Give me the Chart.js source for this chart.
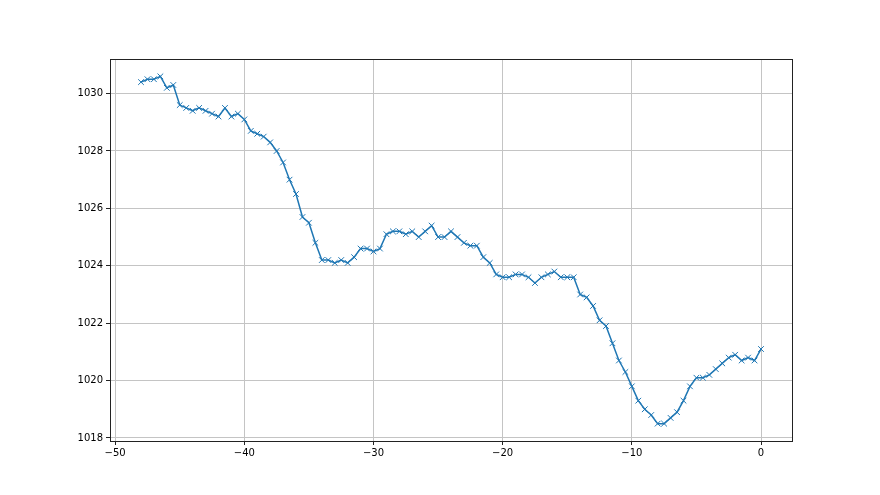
<!DOCTYPE html>
<html>
<head>
<meta charset="utf-8">
<script src="https://cdn.jsdelivr.net/npm/chart.js@4"></script>
<style>
  body { margin: 0; background: #fff; }
  canvas { display: block; }
</style>
</head>
<body>
<canvas id="pressureChart" width="880" height="495"></canvas>
<script>
// hours relative to now
const hours = [
    -48, -47.5, -47, -46.5, -46, -45.5, -45, -44.5, -44, -43.5,
    -43, -42.5, -42, -41.5, -41, -40.5, -40, -39.5, -39, -38.5,
    -38, -37.5, -37, -36.5, -36, -35.5, -35, -34.5, -34, -33.5,
    -33, -32.5, -32, -31.5, -31, -30.5, -30, -29.5, -29, -28.5,
    -28, -27.5, -27, -26.5, -26, -25.5, -25, -24.5, -24, -23.5,
    -23, -22.5, -22, -21.5, -21, -20.5, -20, -19.5, -19, -18.5,
    -18, -17.5, -17, -16.5, -16, -15.5, -15, -14.5, -14, -13.5,
    -13, -12.5, -12, -11.5, -11, -10.5, -10, -9.5, -9, -8.5,
    -8, -7.5, -7, -6.5, -6, -5.5, -5, -4.5, -4, -3.5,
    -3, -2.5, -2, -1.5, -1, -0.5, 0
];

// pressure readings (hPa)
const pressure = [
    1030.4, 1030.5, 1030.5, 1030.6, 1030.2, 1030.3, 1029.6, 1029.5, 1029.4, 1029.5,
    1029.4, 1029.3, 1029.2, 1029.5, 1029.2, 1029.3, 1029.1, 1028.7, 1028.6, 1028.5,
    1028.3, 1028.0, 1027.6, 1027.0, 1026.5, 1025.7, 1025.5, 1024.8, 1024.2, 1024.2,
    1024.1, 1024.2, 1024.1, 1024.3, 1024.6, 1024.6, 1024.5, 1024.6, 1025.1, 1025.2,
    1025.2, 1025.1, 1025.2, 1025.0, 1025.2, 1025.4, 1025.0, 1025.0, 1025.2, 1025.0,
    1024.8, 1024.7, 1024.7, 1024.3, 1024.1, 1023.7, 1023.6, 1023.6, 1023.7, 1023.7,
    1023.6, 1023.4, 1023.6, 1023.7, 1023.8, 1023.6, 1023.6, 1023.6, 1023.0, 1022.9,
    1022.6, 1022.1, 1021.9, 1021.3, 1020.7, 1020.3, 1019.8, 1019.3, 1019.0, 1018.8,
    1018.5, 1018.5, 1018.7, 1018.9, 1019.3, 1019.8, 1020.1, 1020.1, 1020.2, 1020.4,
    1020.6, 1020.8, 1020.9, 1020.7, 1020.8, 1020.7, 1021.1
];

const xTicks = [-50, -40, -30, -20, -10, 0];
const yTicks = [1018, 1020, 1022, 1024, 1026, 1028, 1030];

const BLUE = '#1f77b4';
const GRID = '#c4c4c4';

// matplotlib style box round the axes
const frame = {
    id: 'frame',
    afterDraw(chart) {
        const { ctx, chartArea: a } = chart;
        ctx.save();
        ctx.strokeStyle = '#222';
        ctx.lineWidth = 1;
        ctx.strokeRect(Math.round(a.left) + 0.5, Math.round(a.top) + 0.5,
            Math.round(a.right - a.left), Math.round(a.bottom - a.top));
        ctx.restore();
    }
};

const minus = v => String(v).replace('-', '\u2212');

new Chart(document.getElementById('pressureChart').getContext('2d'), {
    type: 'line',
    data: {
        datasets: [{
            data: hours.map((h, i) => ({ x: h, y: pressure[i] })),
            borderColor: BLUE,
            backgroundColor: BLUE,
            borderWidth: 1.5,
            pointStyle: 'crossRot',
            pointRadius: 4,
            pointBorderWidth: 1,
            pointBorderColor: BLUE,
            tension: 0
        }]
    },
    options: {
        responsive: false,
        animation: false,
        layout: { padding: { top: 59, right: 88, left: 0, bottom: 0 } },
        plugins: { legend: { display: false }, tooltip: { enabled: false } },
        scales: {
            x: {
                type: 'linear',
                min: -50.4,
                max: 2.4,
                afterBuildTicks: s => { s.ticks = xTicks.map(v => ({ value: v })); },
                afterFit: s => { s.height = 54; },
                border: { display: false },
                grid: { color: GRID, lineWidth: 1, tickColor: '#222', tickLength: 4 },
                ticks: {
                    color: '#000',
                    padding: 2,
                    maxRotation: 0,
                    font: { family: 'DejaVu Sans', size: 10 },
                    callback: v => minus(v)
                }
            },
            y: {
                type: 'linear',
                min: 1017.895,
                max: 1031.205,
                afterBuildTicks: s => { s.ticks = yTicks.map(v => ({ value: v })); },
                afterFit: s => { s.width = 110; },
                border: { display: false },
                grid: { color: GRID, lineWidth: 1, tickColor: '#222', tickLength: 4 },
                ticks: {
                    color: '#000',
                    padding: 3,
                    font: { family: 'DejaVu Sans', size: 10 },
                    callback: v => String(v)
                }
            }
        }
    },
    plugins: [frame]
});
</script>
</body>
</html>
